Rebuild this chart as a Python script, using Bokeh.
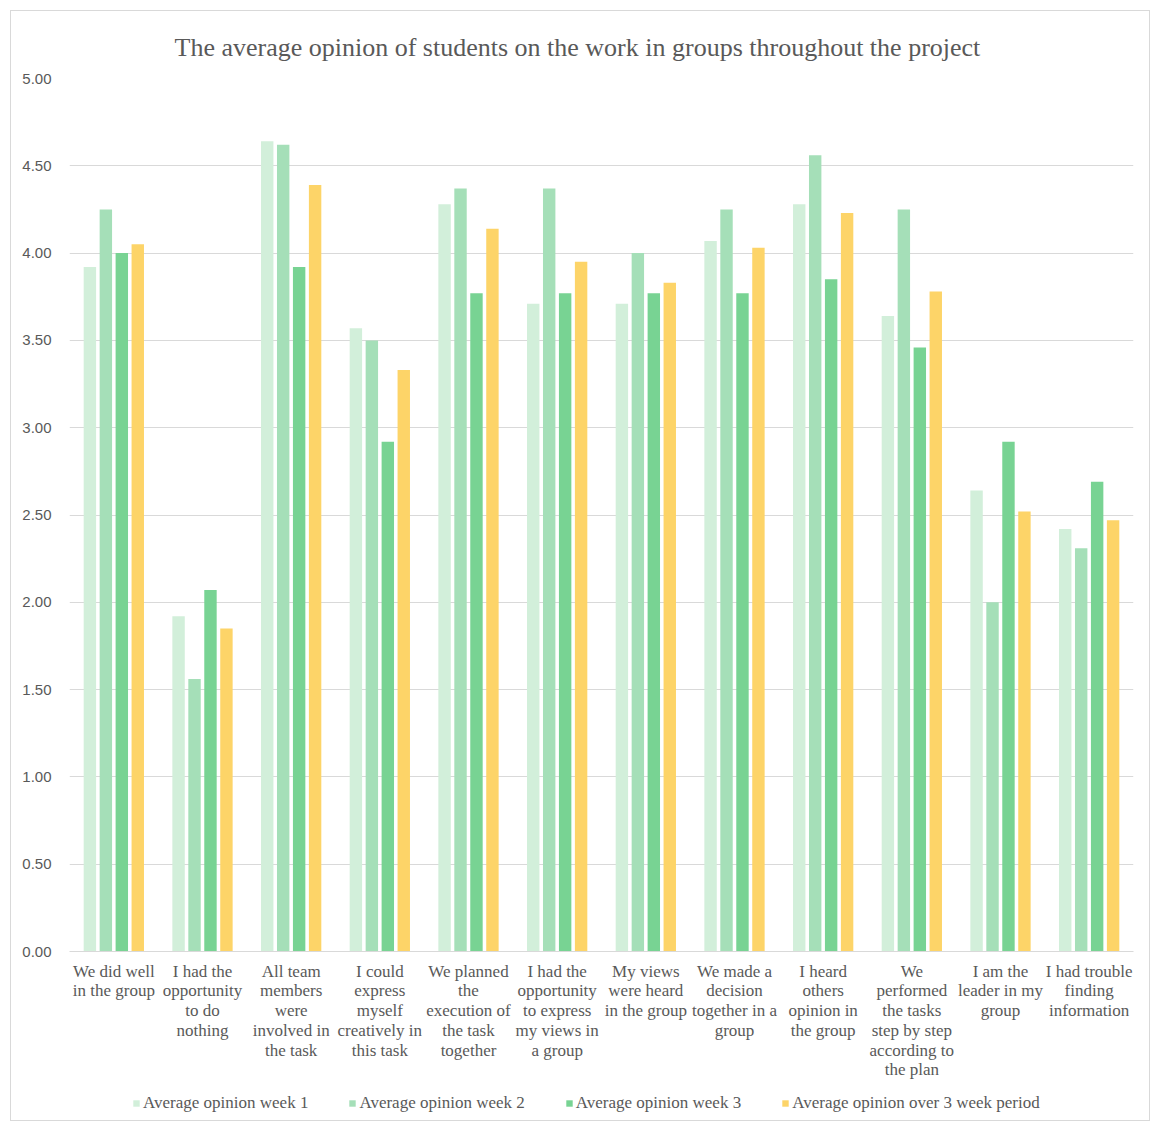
from bokeh.plotting import figure
from bokeh.layouts import column
from bokeh.models import ColumnDataSource, FactorRange, Legend, LegendItem, NumeralTickFormatter, FixedTicker
from bokeh.transform import dodge
from bokeh.embed import file_html
from bokeh.resources import INLINE

categories = [
    "We did well\nin the group",
    "I had the\nopportunity\nto do\nnothing",
    "All team\nmembers\nwere\ninvolved in\nthe task",
    "I could\nexpress\nmyself\ncreatively in\nthis task",
    "We planned\nthe\nexecution of\nthe task\ntogether",
    "I had the\nopportunity\nto express\nmy views in\na group",
    "My views\nwere heard\nin the group",
    "We made a\ndecision\ntogether in a\ngroup",
    "I heard\nothers\nopinion in\nthe group",
    "We\nperformed\nthe tasks\nstep by step\naccording to\nthe plan",
    "I am the\nleader in my\ngroup",
    "I had trouble\nfinding\ninformation",
]
week1 = [3.92, 1.92, 4.64, 3.57, 4.28, 3.71, 3.71, 4.07, 4.28, 3.64, 2.64, 2.42]
week2 = [4.25, 1.56, 4.62, 3.50, 4.37, 4.37, 4.00, 4.25, 4.56, 4.25, 2.00, 2.31]
week3 = [4.00, 2.07, 3.92, 2.92, 3.77, 3.77, 3.77, 3.77, 3.85, 3.46, 2.92, 2.69]
average = [4.05, 1.85, 4.39, 3.33, 4.14, 3.95, 3.83, 4.03, 4.23, 3.78, 2.52, 2.47]
series_names = ["Average opinion week 1", "Average opinion week 2",
                "Average opinion week 3", "Average opinion over 3 week period"]
colors = ["#d2efda", "#a5dfb8", "#78d393", "#fdd468"]
y_ticks = [0, 0.5, 1, 1.5, 2, 2.5, 3, 3.5, 4, 4.5, 5]

source = ColumnDataSource(dict(cat=categories, w1=week1, w2=week2, w3=week3, avg=average))

p = figure(frame_width=1064, frame_height=873, x_range=FactorRange(*categories, range_padding=0),
           y_range=(0, 5), output_backend="svg", toolbar_location=None,
           min_border_left=58, min_border_right=16, min_border_top=67, min_border_bottom=8,
           title="The average opinion of students on the work in groups throughout the project")

p.title.align = "left"
p.title.offset = 105
p.title.text_font = "Liberation Serif"
p.title.text_font_size = "26px"
p.title.text_font_style = "normal"
p.title.text_color = "#595959"
p.title.standoff = 34

offsets = [-0.27, -0.09, 0.09, 0.27]
fields = ["w1", "w2", "w3", "avg"]
for f, off, c in zip(fields, offsets, colors):
    p.vbar(x=dodge("cat", off, range=p.x_range), top=f, width=0.14, bottom=0,
           source=source, fill_color=c, line_color=None)

p.outline_line_color = None
p.xgrid.grid_line_color = None
p.ygrid.grid_line_color = "#d9d9d9"
p.ygrid.grid_line_width = 1

p.yaxis.ticker = FixedTicker(ticks=y_ticks)
p.yaxis.formatter = NumeralTickFormatter(format="0.00")
p.yaxis.axis_line_color = None
p.yaxis.major_tick_line_color = None
p.yaxis.minor_tick_line_color = None
p.yaxis.major_label_text_font = "Liberation Sans"
p.yaxis.major_label_text_font_size = "15px"
p.yaxis.major_label_text_color = "#595959"
p.yaxis.major_label_standoff = 12

p.xaxis.axis_line_color = "#d9d9d9"
p.xaxis.major_tick_line_color = None
p.xaxis.minor_tick_line_color = None
p.xaxis.major_label_text_font = "Liberation Serif"
p.xaxis.major_label_text_font_size = "17px"
p.xaxis.major_label_text_color = "#595959"
p.xaxis.major_label_text_line_height = 1.04
p.xaxis.major_label_standoff = 4
p.xaxis.major_label_orientation = "horizontal"

# legend strip below the chart (its swatch renderers lie outside the strip's visible range)
p2 = figure(width=1138, height=38, x_range=(100, 101), y_range=(100, 101), output_backend="svg",
            toolbar_location=None, min_border=0)
p2.axis.visible = False
p2.grid.visible = False
p2.outline_line_color = None
legend_renderers = [p2.vbar(x=vals, top=vals, width=0.1, fill_color=c, line_color=None)
                    for vals, c in zip([week1, week2, week3, average], colors)]
legend = Legend(items=[LegendItem(label=n, renderers=[r]) for n, r in zip(series_names, legend_renderers)],
                orientation="horizontal", location=(63, 7))
legend.label_text_font = "Liberation Serif"
legend.label_text_font_size = "17px"
legend.label_text_color = "#595959"
legend.glyph_width = 8
legend.glyph_height = 8
legend.label_standoff = 3
legend.spacing = 40
legend.border_line_color = None
legend.background_fill_alpha = 0
legend.padding = 0
legend.margin = 0
p2.add_layout(legend, "center")

layout = column(p, p2, margin=(10, 0, 0, 10), spacing=0,
                styles={"border": "1px solid #d9d9d9"})

open("out.html", "w").write(file_html(layout, INLINE))
